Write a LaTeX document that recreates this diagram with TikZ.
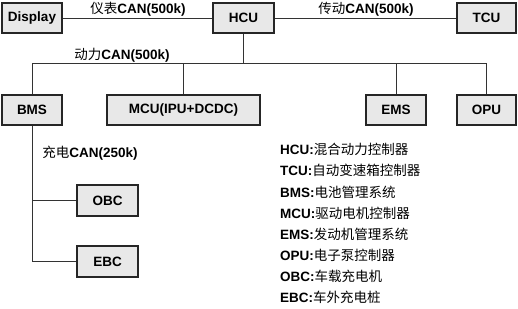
\documentclass[tikz,border=0pt]{standalone}
\usepackage{fontspec}
\setmainfont{Liberation Sans}
\newfontfamily\cjk{Noto Sans CJK SC}
\newcommand{\zh}[1]{{\cjk\mdseries #1}}
\usetikzlibrary{positioning}

\begin{document}
\begin{tikzpicture}[x=1pt,y=-1pt,
  ecu/.style={draw=black!85, line width=1.8pt, fill=black!9, minimum height=30pt, inner sep=0pt, font=\fontsize{13.5}{16}\selectfont\bfseries},
  bus/.style={black!80, line width=0.8pt},
  lbl/.style={inner sep=0pt, font=\fontsize{13.5}{16}\selectfont\bfseries},
  leg/.style={inner sep=0pt, anchor=west, font=\fontsize{13.5}{16}\selectfont\bfseries}]
\useasboundingbox (0,0) rectangle (518,308);
% top row
\node[ecu, minimum width=60pt] (disp) at (32,18) {Display};
\node[ecu, minimum width=61pt] (hcu) at (243.5,18) {HCU};
\node[ecu, minimum width=59pt] (tcu) at (486.5,18) {TCU};
% power CAN row
\node[ecu, minimum width=60pt] (bms) at (32,110) {BMS};
\node[ecu, minimum width=153pt] (mcu) at (183.5,110) {MCU(IPU+DCDC)};
\node[ecu, minimum width=60pt] (ems) at (396,110) {EMS};
\node[ecu, minimum width=59pt] (opu) at (486.5,110) {OPU};
% charging
\node[ecu, minimum width=61pt, minimum height=31pt] (obc) at (107.5,200.5) {OBC};
\node[ecu, minimum width=61pt, minimum height=31pt] (ebc) at (107.5,261.5) {EBC};

\coordinate (pbus) at (0,63);
\draw[bus] (disp) -- (hcu);
\draw[bus] (hcu) -- (tcu);
\draw[bus] (hcu.south) -- (hcu.south |- pbus);
\draw[bus] (bms.north) |- (opu.north |- pbus) -- (opu.north);
\draw[bus] (mcu.north) -- (mcu.north |- pbus);
\draw[bus] (ems.north) -- (ems.north |- pbus);
\draw[bus] (bms.south) |- (ebc.west);
\draw[bus] (bms.south |- obc.west) -- (obc.west);

\node[lbl] (ybcan) at (138,9) {\zh{仪表}CAN(500k)};
\node[lbl] (cdcan) at (366,9) {\zh{传动}CAN(500k)};
\node[lbl] (dlcan) at (122,55) {\zh{动力}CAN(500k)};
\node[lbl] (cecan) at (90,153) {\zh{充电}CAN(250k)};

% legend
\node[leg] (l1) at (280,149) {HCU:\zh{混合动力控制器}};
\node[leg] (l2) at (280,170) {TCU:\zh{自动变速箱控制器}};
\node[leg] (l3) at (280,192) {BMS:\zh{电池管理系统}};
\node[leg] (l4) at (280,213) {MCU:\zh{驱动电机控制器}};
\node[leg] (l5) at (280,234) {EMS:\zh{发动机管理系统}};
\node[leg] (l6) at (280,255) {OPU:\zh{电子泵控制器}};
\node[leg] (l7) at (280,276) {OBC:\zh{车载充电机}};
\node[leg] (l8) at (280,297) {EBC:\zh{车外充电桩}};
\end{tikzpicture}
\end{document}
